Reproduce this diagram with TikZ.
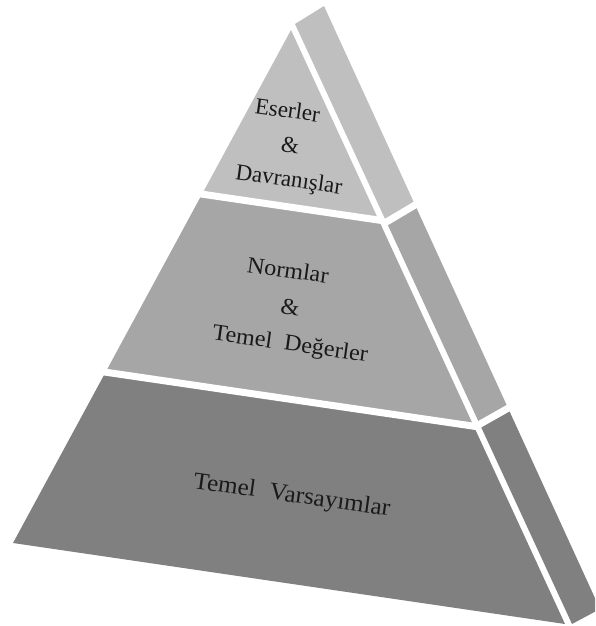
\documentclass[tikz,border=0pt]{standalone}
\usepackage{fontspec}
\setmainfont{Liberation Serif}
\usetikzlibrary{calc}
\definecolor{tierTop}{RGB}{191,191,191}
\definecolor{tierMid}{RGB}{166,166,166}
\definecolor{tierLow}{RGB}{128,128,128}
\tikzset{
  gap/.style={draw=white, line width=7pt, shorten <=-4pt, shorten >=-4pt},
  label/.style={font=\fontsize{23}{34}\selectfont, rotate=-8, align=center,
    inner sep=0pt, text=black!90}
}
\begin{document}
\begin{tikzpicture}[x=1pt, y=-1pt]
  \useasboundingbox (0,0) rectangle (595,626);
  \clip (0,0) rectangle (595,626);

  % front face corners
  \coordinate (A)  at (291,30);
  \coordinate (BL) at (13,543);
  \coordinate (BR) at (565,624);
  % side face corners
  \coordinate (SL0) at (295,24);
  \coordinate (SR0) at (324,6);
  \coordinate (SR3) at (600,609);
  \coordinate (SL3) at (572,624);

  % tier boundaries on the front face
  \coordinate (F1L) at ($(A)!0.32!(BL)$);
  \coordinate (F1R) at ($(A)!0.32!(BR)$);
  \coordinate (F2L) at ($(A)!0.667!(BL)$);
  \coordinate (F2R) at ($(A)!0.667!(BR)$);
  % tier boundaries on the side face
  \coordinate (S1L) at ($(SL0)!0.33!(SL3)$);
  \coordinate (S1R) at ($(SR0)!0.33!(SR3)$);
  \coordinate (S2L) at ($(SL0)!0.667!(SL3)$);
  \coordinate (S2R) at ($(SR0)!0.667!(SR3)$);

  % front face tiers
  \fill[tierTop] (A) -- (F1R) -- (F1L) -- cycle;
  \fill[tierMid] (F1L) -- (F1R) -- (F2R) -- (F2L) -- cycle;
  \fill[tierLow] (F2L) -- (F2R) -- (BR) -- (BL) -- cycle;
  % side face tiers
  \fill[tierTop] (SL0) -- (SR0) -- (S1R) -- (S1L) -- cycle;
  \fill[tierMid] (S1L) -- (S1R) -- (S2R) -- (S2L) -- cycle;
  \fill[tierLow] (S2L) -- (S2R) -- (SR3) -- (SL3) -- cycle;

  % white separators between tiers
  \draw[gap] (F1L) -- (F1R);
  \draw[gap] (F2L) -- (F2R);
  \draw[gap] (S1L) -- (S1R);
  \draw[gap] (S2L) -- (S2R);

  % tier labels
  \node[label] (t1) at (290,147)
    {Eserler\hspace*{15pt}\\ \&\\ \hspace*{7pt}Davranışlar};
  \node[label, xscale=1.05] (t2) at (290,309)
    {Normlar\hspace*{14pt}\\[2pt] \&\\[2pt] \hspace*{10pt}Temel\hspace{0.5em}Değerler};
  \node[label, anchor=base, xscale=1.05, font=\fontsize{24}{30}\selectfont] (t3) at (291,502)
    {Temel\hspace{0.55em}Varsayımlar};
\end{tikzpicture}
\end{document}
